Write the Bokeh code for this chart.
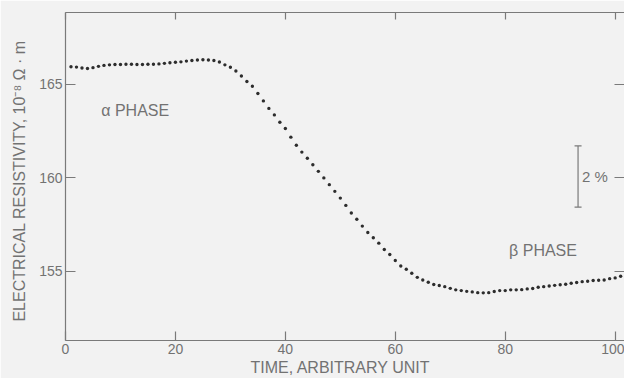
from bokeh.plotting import figure
from bokeh.models import (Range1d, LinearAxis, FixedTicker, CustomJSTickFormatter,
                          Whisker, ColumnDataSource, Label, TeeHead)
from bokeh.core.properties import value
from bokeh.embed import file_html
from bokeh.resources import INLINE

# ---- data ----
time = list(range(1, 103))
resistivity = [
    165.95, 165.93, 165.88, 165.85, 165.90, 165.97, 166.02, 166.05, 166.07, 166.07,
    166.08, 166.08, 166.07, 166.07, 166.08, 166.08, 166.10, 166.13, 166.16, 166.19,
    166.21, 166.25, 166.28, 166.31, 166.32, 166.31, 166.28,
    166.20, 166.05, 165.92, 165.72, 165.45, 165.16, 164.90, 164.52, 164.12, 163.72,
    163.37, 162.98, 162.64, 162.18, 161.75, 161.38, 161.05, 160.70, 160.35, 160.00,
    159.64, 159.28,
    158.92, 158.53, 158.12, 157.79, 157.42, 157.08, 156.80, 156.51, 156.17, 155.90,
    155.58, 155.29, 155.11, 154.90, 154.68, 154.54,
    154.42, 154.30, 154.24, 154.18, 154.09, 154.01, 153.97, 153.93, 153.90, 153.86,
    153.85, 153.86, 153.92, 153.97, 153.97, 154.01, 154.01, 154.02, 154.06, 154.08,
    154.15, 154.18, 154.22, 154.25, 154.28, 154.31, 154.36, 154.40, 154.45, 154.47,
    154.51, 154.52, 154.54, 154.61, 154.65, 154.74, 154.81,
]
x_ticks = [0, 20, 40, 60, 80, 100]
y_ticks = [155, 160, 165]
phase_labels = ["\u03b1  PHASE", "\u03b2  PHASE"]
phase_x = [6.5, 80.7]
phase_y = [163.62, 156.12]
scale_x = [93.25]
scale_upper = [161.71]
scale_lower = [158.44]
scale_text = "2 %"

FONT = "Liberation Sans"
AX = "#7a7a7a"
TXT = "#727272"
BG = "#f2f2f2"

p = figure(width=624, height=378, output_backend="svg", toolbar_location=None,
           x_range=Range1d(0, 101.7), y_range=Range1d(151.3, 168.85),
           min_border_left=65, min_border_right=0, min_border_top=12,
           min_border_bottom=37,
           background_fill_color=BG, border_fill_color=BG)
p.outline_line_color = None
p.grid.visible = False

def style_axis(ax, ticks, tick_in, labels=True):
    ax.ticker = FixedTicker(ticks=ticks)
    ax.minor_tick_line_color = None
    ax.major_tick_in = tick_in
    ax.major_tick_out = 0
    ax.axis_line_color = AX
    ax.major_tick_line_color = AX
    ax.axis_line_width = 1.2
    ax.major_tick_line_width = 1.2
    ax.major_label_text_font = FONT
    ax.major_label_text_font_size = "14px"
    ax.major_label_text_color = TXT
    ax.axis_label_text_font = FONT
    ax.axis_label_text_font_size = "16px"
    ax.axis_label_text_font_style = "normal"
    ax.axis_label_text_color = TXT
    if not labels:
        ax.formatter = CustomJSTickFormatter(code="return ''")
        ax.major_label_standoff = 0

style_axis(p.xaxis[0], x_ticks, 9)
style_axis(p.yaxis[0], y_ticks, 10)
p.xaxis[0].axis_label = "TIME,  ARBITRARY  UNIT"
p.xaxis[0].major_label_standoff = 3
p.xaxis[0].axis_label_standoff = 2
p.yaxis[0].axis_label = "ELECTRICAL  RESISTIVITY,  10\u207b\u2078 \u03a9 \u00b7 m"
p.yaxis[0].major_label_standoff = 3
p.yaxis[0].axis_label_standoff = 8

top = LinearAxis()
style_axis(top, x_ticks, 7, labels=False)
p.add_layout(top, "above")
right = LinearAxis()
style_axis(right, y_ticks, 10, labels=False)
right.axis_line_color = None
p.add_layout(right, "right")

p.scatter(time, resistivity, size=3.4, color="#2d2d2d", line_color=None)

ph_src = ColumnDataSource(dict(x=phase_x, y=phase_y, t=phase_labels))
p.text(x="x", y="y", text="t", source=ph_src, text_font=value(FONT),
       text_font_size="16px", text_color=TXT, text_baseline="middle",
       text_align="left")

sc_src = ColumnDataSource(dict(base=scale_x, upper=scale_upper, lower=scale_lower))
p.add_layout(Whisker(source=sc_src, base="base", upper="upper", lower="lower",
                     dimension="height", line_color=AX, line_width=1.2,
                     upper_head=TeeHead(size=7, line_color=AX, line_width=1.2),
                     lower_head=TeeHead(size=7, line_color=AX, line_width=1.2)))
p.add_layout(Label(x=scale_x[0], y=(scale_upper[0] + scale_lower[0]) / 2,
                   text=scale_text, x_offset=4, text_font=FONT,
                   text_font_size="15px", text_color=TXT, text_baseline="middle"))

open("out.html", "w").write(file_html(p, INLINE))
